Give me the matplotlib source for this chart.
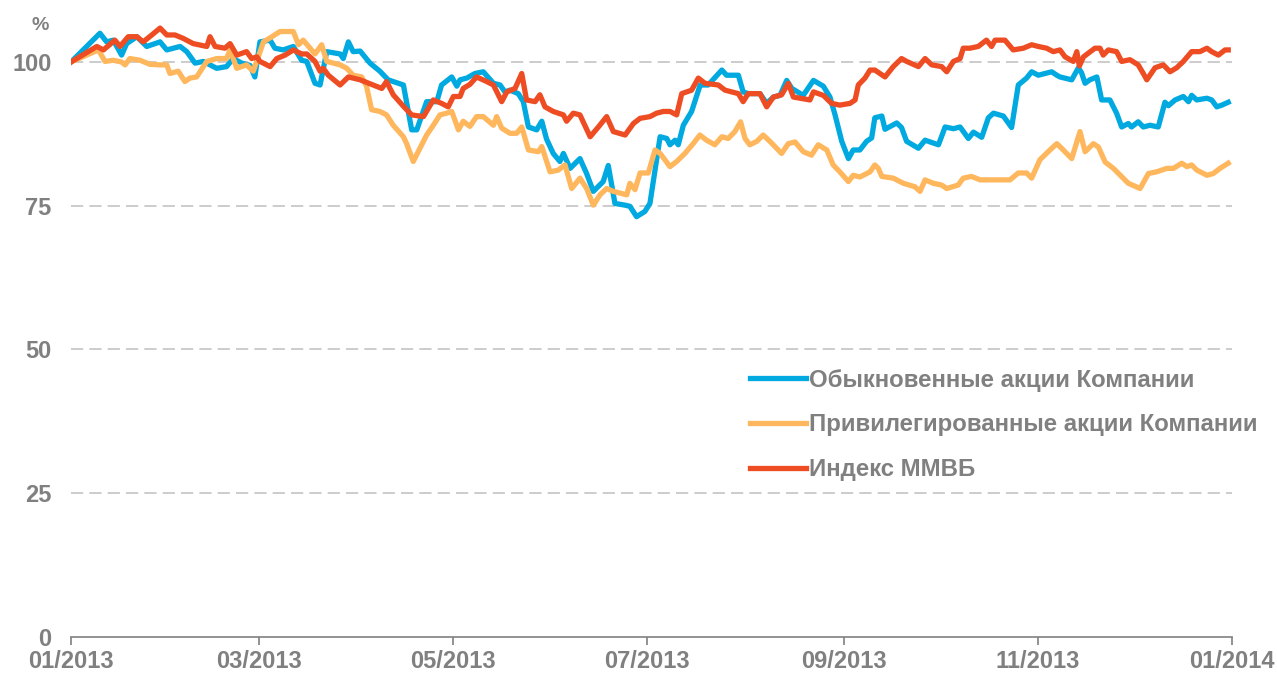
import matplotlib
matplotlib.use("Agg")
import matplotlib.pyplot as plt
import matplotlib.dates as mdates
import pandas as pd

# days since 01.01.2013 and index values (%)
ord_days = [0, 9.1, 11.2, 13.3, 15.9, 17.5, 20.7, 23.8, 28.0, 30.1, 32.2, 34.3, 36.4, 39.0, 41.6,
            45.8, 48.9, 51.0, 53.7, 56.3, 57.8, 59.4, 62.6, 64.1, 66.7, 69.9, 72.5, 74.1, 76.7,
            78.3, 80.4, 84.6, 85.6, 87.2, 88.7, 90.9, 94.0, 97.1, 99.7, 104.5, 107.1, 108.7,
            111.8, 115.0, 116.5, 119.7, 121.3, 122.3, 124.4, 127.0, 129.6, 132.8, 134.9, 136.4,
            138.0, 140.6, 142.2, 143.8, 146.4, 148.0, 149.5, 151.6, 153.7, 154.8, 156.9, 160.0,
            162.1, 164.2, 167.3, 168.9, 171.0, 174.2, 175.7, 177.8, 180.4, 182.0, 183.6, 185.2,
            187.3, 188.3, 189.9, 190.9, 192.5, 195.1, 197.8, 200.3, 204.6, 206.1, 209.8, 211.3,
            212.9, 216.6, 218.7, 220.8, 222.9, 225.0, 226.6, 230.2, 233.4, 236.5, 238.6, 240.2,
            242.3, 244.4, 245.9, 248.0, 250.1, 251.7, 252.7, 254.9, 255.9, 259.6, 261.1, 262.7,
            266.4, 268.5, 272.7, 274.8, 277.4, 279.5, 282.1, 283.7, 286.3, 288.4, 290.0, 293.1,
            295.7, 297.8, 300.4, 302.0, 304.1, 308.3, 309.9, 310.9, 314.6, 316.7, 317.7, 318.8,
            320.3, 322.5, 324.0, 326.6, 328.7, 330.3, 332.4, 333.4, 335.5, 337.1, 339.2, 341.8,
            343.9, 345.0, 347.1, 349.7, 351.3, 352.3, 353.9, 357.1, 358.6, 360.2, 361.8, 363.8]
ord_vals = [100, 105.0, 103.5, 103.8, 101.2, 103.2, 104.4, 102.7, 103.5, 102.1, 102.4, 102.7, 101.8,
            99.8, 100.1, 98.9, 99.2, 100.6, 99.8, 99.4, 97.4, 103.5, 103.8, 102.4, 102.1, 102.7,
            100.3, 100.1, 96.3, 96.0, 101.8, 101.4, 100.6, 103.5, 101.8, 101.9, 99.8, 98.4, 96.9,
            96.0, 88.2, 88.2, 93.1, 93.1, 96.0, 97.4, 95.8, 96.9, 97.2, 98.0, 98.3, 96.3, 96.0,
            94.8, 95.1, 94.5, 93.1, 88.7, 88.2, 89.7, 86.6, 84.1, 82.7, 84.1, 81.5, 83.2, 80.6,
            77.5, 79.2, 82.0, 75.4, 75.1, 74.9, 73.1, 74.0, 75.4, 81.2, 87.0, 86.7, 85.6, 86.4,
            85.6, 89.0, 91.4, 96.0, 96.0, 98.6, 97.7, 97.7, 94.8, 94.5, 94.5, 92.8, 93.9, 94.2,
            96.8, 95.4, 94.2, 96.8, 95.8, 93.9, 90.8, 86.2, 83.2, 84.7, 84.7, 86.2, 86.8, 90.3,
            90.6, 88.3, 89.4, 88.6, 86.2, 85.0, 86.4, 85.6, 88.7, 88.4, 88.7, 86.7, 87.8, 86.9,
            90.3, 91.1, 90.6, 88.6, 96.0, 97.2, 98.3, 97.7, 98.3, 97.7, 97.4, 96.9, 99.0, 98.1,
            96.3, 96.9, 97.4, 93.4, 93.4, 91.1, 88.7, 89.3, 88.7, 89.6, 88.7, 89.0, 88.7, 93.0,
            92.4, 93.4, 94.0, 93.1, 94.2, 93.4, 93.7, 93.4, 92.2, 92.5, 93.0]

pref_days = [0, 8.6, 10.7, 13.3, 15.9, 17.0, 18.5, 21.7, 24.8, 28.0, 30.1, 31.1, 33.7, 35.8, 37.4,
             39.5, 42.7, 45.8, 48.9, 50.0, 52.1, 55.2, 57.3, 60.5, 62.6, 65.7, 69.9, 71.5, 73.0,
             76.7, 78.8, 80.4, 84.6, 86.7, 88.7, 91.4, 92.9, 94.5, 97.1, 99.2, 101.3, 104.5,
             105.5, 107.6, 109.7, 111.8, 113.9, 116.0, 118.1, 119.7, 121.8, 123.3, 125.4, 127.5,
             129.6, 132.8, 133.8, 135.4, 138.0, 140.1, 141.7, 143.8, 146.9, 148.0, 150.6, 153.2,
             155.3, 157.4, 160.0, 162.1, 164.2, 166.3, 168.4, 170.5, 172.6, 174.7, 175.7, 177.3,
             178.9, 181.5, 183.6, 185.2, 188.3, 190.4, 193.0, 195.6, 197.7, 199.8, 202.4, 204.6,
             206.6, 208.7, 210.5, 211.9, 213.4, 215.6, 217.6, 219.7, 223.4, 225.5, 227.6, 230.2,
             232.8, 234.9, 237.6, 239.6, 241.7, 244.4, 245.9, 248.0, 251.2, 252.7, 253.8, 254.9,
             258.5, 261.7, 265.3, 266.9, 268.5, 271.1, 273.7, 275.3, 278.9, 280.5, 283.1, 285.8,
             289.9, 295.2, 297.8, 300.4, 302.0, 304.6, 307.2, 309.9, 311.4, 314.6, 317.2, 318.8,
             321.4, 323.0, 325.1, 327.7, 330.8, 332.4, 336.1, 338.7, 341.3, 344.5, 346.6, 349.2,
             350.8, 352.3, 353.9, 357.1, 359.1, 361.2, 363.8]
pref_vals = [100, 102.1, 100.1, 100.3, 100.0, 99.5, 100.6, 100.3, 99.6, 99.5, 99.5, 98.0, 98.4,
             96.6, 97.2, 97.4, 100.1, 100.6, 100.6, 102.1, 98.9, 99.5, 98.4, 103.5, 104.2, 105.3,
             105.3, 103.0, 103.8, 101.4, 103.0, 100.1, 99.5, 98.9, 97.7, 97.4, 95.8, 91.7, 91.4,
             90.8, 89.0, 87.0, 85.8, 82.7, 85.0, 87.3, 89.0, 90.8, 91.1, 91.4, 88.2, 89.7, 88.8,
             90.5, 90.5, 89.0, 90.5, 88.5, 87.6, 87.6, 88.7, 84.7, 84.4, 85.3, 80.9, 81.2, 82.1,
             78.0, 79.8, 78.0, 75.1, 76.9, 78.0, 77.5, 77.2, 76.9, 78.9, 77.8, 80.7, 80.7, 84.7,
             84.1, 81.8, 82.7, 84.1, 85.8, 87.3, 86.4, 85.6, 87.0, 86.7, 87.9, 89.6, 86.7, 85.6,
             86.2, 87.3, 86.2, 84.1, 85.8, 86.1, 84.4, 83.8, 85.6, 84.7, 82.1, 80.9, 79.2, 80.3,
             80.0, 80.9, 82.1, 81.5, 80.1, 79.8, 78.9, 78.3, 77.5, 79.5, 78.9, 78.6, 78.0, 78.6,
             79.8, 80.1, 79.5, 79.5, 79.5, 80.7, 80.7, 79.8, 83.0, 84.4, 85.8, 85.0, 83.2, 87.9,
             84.4, 85.8, 85.2, 82.6, 81.5, 79.8, 78.9, 78.0, 80.6, 80.9, 81.5, 81.5, 82.4, 81.8,
             82.1, 81.2, 80.3, 80.6, 81.5, 82.4]

micex_days = [0, 8.1, 10.2, 13.8, 15.4, 18.0, 20.7, 22.7, 25.4, 28.0, 30.1, 32.7, 35.3, 38.4, 42.7,
              43.7, 45.3, 48.4, 50.0, 52.1, 55.2, 56.8, 58.4, 59.4, 62.6, 64.7, 67.3, 69.9, 72.5,
              74.1, 76.7, 78.3, 79.3, 80.9, 84.6, 87.2, 90.9, 95.0, 97.7, 99.2, 101.3, 104.5,
              107.1, 110.8, 113.9, 116.5, 118.6, 120.2, 122.3, 123.3, 125.4, 127.5, 130.7, 132.8,
              135.4, 137.0, 139.6, 141.7, 143.2, 145.9, 147.4, 149.0, 151.6, 154.8, 155.8, 157.9,
              160.0, 163.2, 165.8, 168.4, 170.5, 174.2, 176.8, 178.9, 182.0, 184.1, 186.2, 188.3,
              190.4, 192.0, 195.1, 197.2, 199.3, 203.5, 205.6, 209.8, 211.3, 212.9, 216.6, 218.7,
              220.8, 223.4, 225.5, 227.1, 232.3, 233.4, 236.5, 239.1, 241.7, 244.9, 246.5, 247.5,
              249.6, 251.2, 252.7, 255.9, 258.5, 261.1, 262.7, 266.4, 268.5, 270.6, 273.7, 275.3,
              277.4, 279.5, 280.5, 282.6, 285.2, 287.8, 289.4, 290.5, 293.6, 296.2, 299.4, 302.0,
              304.1, 306.7, 308.8, 310.9, 312.5, 315.1, 316.2, 317.0, 318.3, 321.9, 323.5, 324.5,
              326.1, 328.7, 330.3, 332.9, 335.5, 337.1, 338.2, 340.8, 343.4, 345.5, 347.6, 349.7,
              352.3, 354.9, 357.1, 358.6, 360.7, 362.8, 363.8]
micex_vals = [100, 102.7, 102.1, 103.8, 102.7, 104.4, 104.4, 103.5, 104.7, 105.9, 104.7, 104.7,
              104.1, 103.2, 102.7, 104.4, 102.7, 102.4, 103.2, 101.2, 101.8, 100.6, 100.9, 100.1,
              99.2, 100.6, 101.2, 102.1, 101.4, 101.4, 100.1, 98.4, 98.9, 97.7, 96.0, 97.4, 96.9,
              96.0, 95.4, 96.6, 94.3, 92.3, 90.8, 90.5, 93.4, 92.8, 92.2, 94.0, 94.0, 95.4, 96.1,
              97.4, 96.6, 96.0, 93.1, 94.8, 95.4, 98.0, 93.4, 93.1, 94.3, 92.2, 91.4, 90.8, 89.7,
              91.1, 90.8, 87.0, 88.7, 90.5, 87.9, 87.3, 89.3, 90.2, 90.5, 91.1, 91.4, 91.4, 90.8,
              94.5, 95.1, 97.2, 96.3, 96.0, 95.1, 94.5, 93.1, 94.5, 94.5, 92.2, 93.9, 94.3, 96.3,
              93.9, 93.4, 94.8, 94.2, 92.8, 92.5, 92.8, 93.4, 96.0, 97.2, 98.6, 98.6, 97.4, 99.2,
              100.6, 100.1, 99.2, 100.6, 99.5, 99.2, 98.3, 100.1, 100.6, 102.4, 102.4, 102.7,
              103.8, 102.7, 103.8, 103.8, 102.1, 102.4, 103.0, 102.7, 102.4, 101.8, 102.1, 100.9,
              100.1, 101.8, 99.3, 100.9, 102.4, 102.4, 101.2, 102.1, 101.8, 100.1, 100.4, 99.5,
              98.0, 96.9, 99.0, 99.5, 98.3, 99.0, 100.1, 101.8, 101.8, 102.4, 101.8, 101.2,
              102.1, 102.1]

labels = ['Обыкновенные акции Компании', 'Привилегированные акции Компании', 'Индекс ММВБ']
colors = ['#00A9E0', '#FFB75E', '#EE4D23']
yticks = [0, 25, 50, 75, 100]

plt.rcParams['font.family'] = ['Liberation Sans', 'DejaVu Sans']
plt.rcParams['font.weight'] = 'bold'
grey = '#808080'

start = pd.Timestamp('2013-01-01')


def to_dates(days):
    return start + pd.to_timedelta(days, unit='D')


fig = plt.figure(figsize=(12.77, 6.75), dpi=100)
ax = fig.add_axes([0.0556, 0.0563, 0.9092, 0.92])

for days, vals, lab, col in zip([ord_days, pref_days, micex_days],
                                [ord_vals, pref_vals, micex_vals], labels, colors):
    ax.plot(to_dates(days), vals, color=col, lw=3.8, label=lab, solid_joinstyle='round')

ax.set_ylim(0, 108)
ax.set_xlim(start, pd.Timestamp('2014-01-01'))

for v in yticks[1:]:
    ax.axhline(v, color='#BFBFBF', lw=1.1, ls=(0, (8, 4)), zorder=0)

ax.set_yticks(yticks)
ax.xaxis.set_major_locator(mdates.MonthLocator(bymonth=[1, 3, 5, 7, 9, 11]))
ax.xaxis.set_major_formatter(mdates.DateFormatter('%m/%Y'))

for s in ['top', 'right', 'left']:
    ax.spines[s].set_visible(False)
ax.spines['bottom'].set_color(grey)
ax.spines['bottom'].set_linewidth(1.2)

ax.tick_params(axis='y', length=0, pad=14, labelsize=17, labelcolor=grey)
ax.tick_params(axis='x', length=6, width=1.2, color=grey, pad=3.5, labelsize=17,
               labelcolor=grey)

fig.text(40 / 1277, 1 - 25 / 675, '%', ha='center', va='center', fontsize=14,
         color=grey, fontweight='bold')

leg = ax.legend(loc='center left', bbox_to_anchor=(750 / 1277, 1 - 425 / 675),
                bbox_transform=fig.transFigure, frameon=False, fontsize=17.3,
                handlelength=2.35, handletextpad=0.1, labelspacing=0.9,
                borderpad=0, borderaxespad=0)
for t in leg.get_texts():
    t.set_color(grey)

fig.savefig('out.png', dpi=100)
